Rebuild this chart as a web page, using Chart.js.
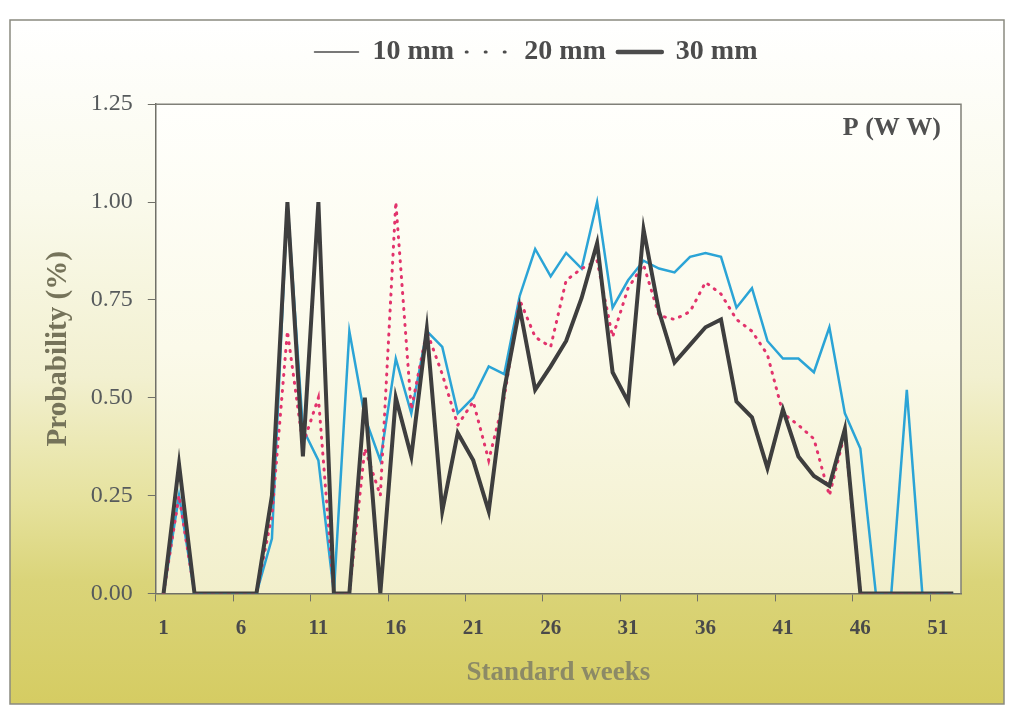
<!DOCTYPE html>
<html>
<head>
<meta charset="utf-8">
<script src="https://cdn.jsdelivr.net/npm/chart.js@4.4.1/dist/chart.umd.min.js"></script>
<style>
  html, body { margin: 0; padding: 0; background: #fff; }
  #wrap { width: 1015px; height: 709px; position: relative; }
</style>
</head>
<body>
<div id="wrap"><canvas id="probChart" width="1015" height="709"></canvas></div>
<script>
const weeks = [1, 2, 3, 4, 5, 6, 7, 8, 9, 10, 11, 12, 13, 14, 15, 16, 17, 18, 19, 20, 21, 22, 23, 24, 25, 26,
  27, 28, 29, 30, 31, 32, 33, 34, 35, 36, 37, 38, 39, 40, 41, 42, 43, 44, 45, 46, 47, 48, 49, 50, 51, 52];
const labelEvery = 5; // 1, 6, 11 ... 51
const yTicks = [0, 0.25, 0.5, 0.75, 1.0, 1.25];

const mm10 = [0, 0.25, 0, 0, 0, 0, 0, 0.14, 1.0, 0.42, 0.34, 0, 0.67, 0.45, 0.34, 0.60, 0.46, 0.67, 0.63, 0.46,
  0.50, 0.58, 0.56, 0.76, 0.88, 0.81, 0.87, 0.83, 1.0, 0.73, 0.80, 0.85, 0.83, 0.82, 0.86, 0.87, 0.86, 0.73,
  0.78, 0.645, 0.60, 0.60, 0.565, 0.68, 0.46, 0.37, 0, 0, 0.52, 0, 0, 0];
const mm20 = [0, 0.25, 0, 0, 0, 0, 0, 0.2, 0.67, 0.38, 0.50, 0, 0, 0.37, 0.25, 1.0, 0.47, 0.67, 0.56, 0.43,
  0.49, 0.34, 0.50, 0.75, 0.655, 0.63, 0.80, 0.83, 0.85, 0.655, 0.78, 0.84, 0.71, 0.70, 0.72, 0.795, 0.765, 0.70,
  0.67, 0.61, 0.46, 0.43, 0.395, 0.25, 0.41, 0, 0, 0, 0, 0, 0, 0];
const mm30 = [0, 0.33, 0, 0, 0, 0, 0, 0.25, 1.0, 0.35, 1.0, 0, 0, 0.50, 0, 0.50, 0.35, 0.675, 0.21, 0.41,
  0.34, 0.21, 0.52, 0.73, 0.52, 0.58, 0.645, 0.755, 0.895, 0.565, 0.49, 0.93, 0.72, 0.59, 0.635, 0.68, 0.70, 0.49,
  0.45, 0.32, 0.47, 0.35, 0.30, 0.275, 0.42, 0, 0, 0, 0, 0, 0, 0];

const serif = "'Liberation Serif', 'DejaVu Serif', serif";
const axisGray = "#707068";

// scanned page look: white margin, framed yellow fade, lighter plot area
const backdrop = {
  id: "backdrop",
  afterLayout(chart) {
    // legend sits a bit right of centre in the original
    if (chart.legend) {
      chart.legend.left += 35;
      chart.legend.right += 35;
    }
  },
  beforeDraw(chart) {
    const { ctx, chartArea } = chart;
    ctx.save();
    ctx.fillStyle = "#ffffff";
    ctx.fillRect(0, 0, chart.width, chart.height);

    const g = ctx.createLinearGradient(0, 20, 0, 705);
    g.addColorStop(0, "#ffffff");
    g.addColorStop(0.26, "#fafaec");
    g.addColorStop(0.52, "#f2f0d0");
    g.addColorStop(0.7, "#e6e29e");
    g.addColorStop(0.82, "#dad479");
    g.addColorStop(1, "#d5cc62");
    ctx.fillStyle = g;
    ctx.fillRect(10, 20, 994, 684);
    ctx.strokeStyle = "#8a8a80";
    ctx.lineWidth = 1.5;
    ctx.strokeRect(10, 20, 994, 684);

    const inner = ctx.createLinearGradient(0, chartArea.top, 0, chartArea.bottom);
    inner.addColorStop(0, "#fffffc");
    inner.addColorStop(0.5, "#fbfaea");
    inner.addColorStop(1, "#f2efcb");
    ctx.fillStyle = inner;
    ctx.fillRect(chartArea.left, chartArea.top, chartArea.right - chartArea.left, chartArea.bottom - chartArea.top);
    ctx.restore();
  },
  afterDatasetsDraw(chart) {
    const { ctx, chartArea } = chart;
    ctx.save();
    ctx.strokeStyle = "#808078";
    ctx.lineWidth = 1.5;
    ctx.beginPath();
    ctx.moveTo(chartArea.left, chartArea.top);
    ctx.lineTo(chartArea.right, chartArea.top);
    ctx.lineTo(chartArea.right, chartArea.bottom);
    ctx.stroke();
    ctx.fillStyle = "#505050";
    ctx.font = "bold 26px " + serif;
    ctx.textAlign = "right";
    ctx.textBaseline = "middle";
    ctx.fillText("P (W W)", chartArea.right - 20, chartArea.top + 24);
    ctx.restore();
  }
};

const legendStyles = [
  { text: "10 mm", width: 1.5, dash: [] },
  { text: "20 mm", width: 3, dash: [1, 18] },
  { text: "30 mm", width: 4.5, dash: [] }
];

new Chart(document.getElementById("probChart"), {
  type: "line",
  data: {
    labels: weeks,
    datasets: [
      {
        label: "10 mm",
        data: mm10,
        borderColor: "#2ba4d6",
        borderWidth: 2.5,
        pointRadius: 0,
        tension: 0,
        order: 3
      },
      {
        label: "20 mm",
        data: mm20,
        borderColor: "#e2336c",
        borderWidth: 3,
        borderDash: [1, 7],
        borderCapStyle: "round",
        pointRadius: 0,
        tension: 0,
        order: 2
      },
      {
        label: "30 mm",
        data: mm30,
        borderColor: "#3e3e3e",
        borderWidth: 4,
        pointRadius: 0,
        tension: 0,
        order: 1
      }
    ]
  },
  options: {
    responsive: false,
    animation: false,
    layout: { padding: { top: 26, left: 41, right: 54, bottom: 20 } },
    plugins: {
      tooltip: { enabled: false },
      subtitle: {
        display: true,
        text: "",
        weight: 500,
        font: { size: 1 },
        padding: { top: 0, bottom: 27 }
      },
      legend: {
        display: true,
        position: "top",
        labels: {
          usePointStyle: true,
          pointStyleWidth: 44,
          padding: 12,
          color: "#4c4c4c",
          font: { family: serif, size: 28, weight: "bold" },
          generateLabels: () => legendStyles.map(s => ({
            text: s.text,
            pointStyle: "line",
            strokeStyle: "#4c4c4c",
            fillStyle: "#4c4c4c",
            fontColor: "#4c4c4c",
            lineWidth: s.width,
            lineDash: s.dash,
            lineCap: "round",
            hidden: false
          }))
        }
      }
    },
    scales: {
      x: {
        type: "category",
        offset: true,
        border: { display: true, color: axisGray, width: 1.5 },
        grid: {
          offset: true,
          drawOnChartArea: false,
          drawTicks: true,
          tickLength: 8,
          color: c => (c.index % labelEvery === 0 ? axisGray : "rgba(0,0,0,0)")
        },
        ticks: {
          autoSkip: false,
          padding: 15,
          maxRotation: 0,
          color: "#4a4a4a",
          font: { family: serif, size: 21, weight: "bold" },
          callback: (v, i) => (i % labelEvery === 0 ? String(weeks[i]) : "")
        },
        title: {
          display: true,
          text: "Standard weeks",
          color: "#8c8a66",
          padding: { top: 0, bottom: 0 },
          font: { family: serif, size: 27, weight: "bold" }
        }
      },
      y: {
        min: 0,
        max: 1.25,
        afterBuildTicks: axis => { axis.ticks = yTicks.map(v => ({ value: v })); },
        border: { display: true, color: axisGray, width: 1.5 },
        grid: { drawOnChartArea: false, drawTicks: true, tickLength: 8, color: axisGray },
        ticks: {
          padding: 15,
          color: "#565a5c",
          font: { family: serif, size: 24 },
          callback: v => v.toFixed(2)
        },
        title: {
          display: true,
          text: "Probability (%)",
          color: "#75735a",
          padding: { top: 0, bottom: 0 },
          font: { family: serif, size: 29, weight: "bold" }
        }
      }
    }
  },
  plugins: [backdrop]
});
</script>
</body>
</html>
